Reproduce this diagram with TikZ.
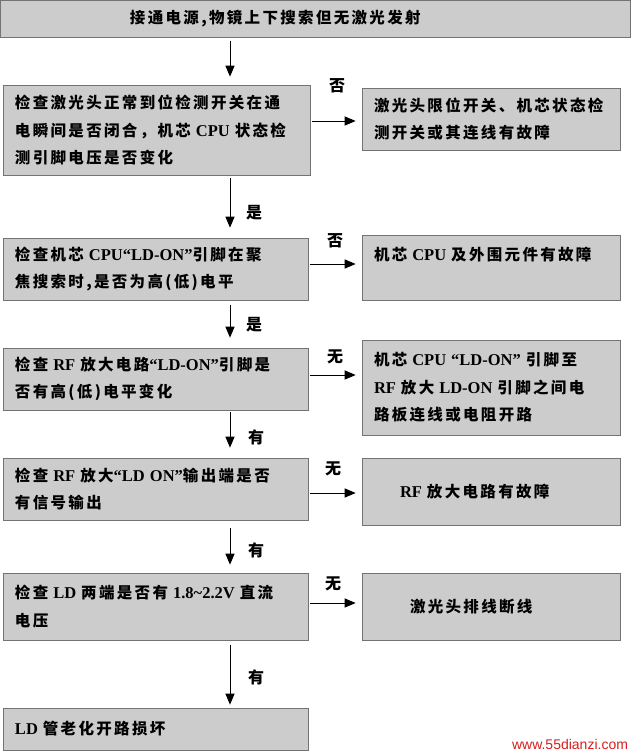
\documentclass[tikz,border=0pt]{standalone}
\usepackage{fontspec}
\newfontfamily\cjk[LetterSpace=15]{Noto Sans CJK SC}
\newfontfamily\latf{Liberation Serif}
\newfontfamily\wm{Liberation Sans}
\usetikzlibrary{arrows.meta}
\definecolor{boxgray}{gray}{0.80}
\definecolor{wmred}{RGB}{215,30,30}
\newcommand{\boxfont}{\cjk\bfseries\fontsize{15.5}{27.5}\selectfont}
\newcommand{\lat}[1]{{\latf\bfseries\fontsize{16.5}{27.5}\selectfont #1}}
\newcommand{\tl}[1]{\mbox{#1}}
\newcommand{\gapsp}{\hspace{5pt}}
\tikzset{
  bx/.style={fill=boxgray, draw=black!55, line width=0.6pt, inner xsep=12pt, inner ysep=4pt, align=left, font=\boxfont},
  arr/.style={-{Triangle[length=11pt,width=9pt]}, line width=1pt},
  lab/.style={font=\cjk\bfseries\fontsize{16}{18}\selectfont, inner sep=0pt}
}
\begin{document}
\begin{tikzpicture}[x=1pt,y=-1pt]
\useasboundingbox (0,0) rectangle (635,756);
\fill[white] (0,0) rectangle (635,756);
% top box
\node[bx, text width=606pt, minimum height=37pt] (top) at (315,18.5) {\hspace*{118pt}\tl{接通电源,物镜上下搜索但无激光发射}};
% left column
\node[bx, text width=283pt, minimum height=90pt] (b2) at (156.5,130) {\tl{检查激光头正常到位检测开关在通}\\\tl{电瞬间是否闭合，机芯\gapsp{}\lat{CPU}\gapsp{}状态检}\\\tl{测引脚电压是否变化}};
\node[bx, text width=281pt, minimum height=62pt] (b3) at (155.5,269) {\tl{检查机芯\gapsp{}\lat{CPU“LD-ON”}引脚在聚}\\\tl{焦搜索时,是否为高(低)电平}};
\node[bx, text width=281pt, minimum height=62pt] (b4) at (155.5,379) {\tl{检查\gapsp{}\lat{RF}\gapsp{}放大电路\lat{“LD-ON”}引脚是}\\\tl{否有高(低)电平变化}};
\node[bx, text width=281pt, minimum height=62pt] (b5) at (155.5,489) {\tl{检查\gapsp{}\lat{RF}\gapsp{}放大\lat{“LD ON”}输出端是否}\\\tl{有信号输出}};
\node[bx, text width=281pt, minimum height=67pt] (b6) at (155.5,606.5) {\tl{检查\gapsp{}\lat{LD}\gapsp{}两端是否有\gapsp{}\lat{1.8\textasciitilde2.2V}\gapsp{}直流}\\\tl{电压}};
\node[bx, text width=281pt, minimum height=42pt] (b7) at (155.5,729) {\tl{\lat{LD}\gapsp{}管老化开路损坏}};
% right column
\node[bx, text width=234pt, minimum height=62pt] (r2) at (491,119) {\tl{激光头限位开关、机芯状态检}\\\tl{测开关或其连线有故障}};
\node[bx, text width=234pt, minimum height=65pt] (r3) at (491,267.5) {\tl{机芯\gapsp{}\lat{CPU}\gapsp{}及外围元件有故障}\\\mbox{}};
\node[bx, text width=234pt, minimum height=95pt] (r4) at (491,387.5) {\tl{机芯\gapsp{}\lat{CPU}\gapsp{}\lat{“LD-ON”}\gapsp{}引脚至}\\\tl{\lat{RF}\gapsp{}放大\gapsp{}\lat{LD-ON}\gapsp{}引脚之间电}\\\tl{路板连线或电阻开路}};
\node[bx, text width=234pt, minimum height=67pt] (r5) at (491,491.5) {\hspace*{26pt}\tl{\lat{RF}\gapsp{}放大电路有故障}};
\node[bx, text width=234pt, minimum height=67pt] (r6) at (491,606.5) {\hspace*{36pt}\tl{激光头排线断线}};
% vertical axis
\coordinate (ax) at (230,0);
\draw[arr, shorten <=4pt, shorten >=8pt] (top.south -| ax) -- (b2.north -| ax);
\draw[arr, shorten <=3pt, shorten >=10pt] (b2.south -| ax) -- (b3.north -| ax);
\draw[arr, shorten <=5pt, shorten >=10pt] (b3.south -| ax) -- (b4.north -| ax);
\draw[arr, shorten <=2pt, shorten >=10pt] (b4.south -| ax) -- (b5.north -| ax);
\draw[arr, shorten <=8pt, shorten >=8pt] (b5.south -| ax) -- (b6.north -| ax);
\draw[arr, shorten <=5pt, shorten >=3pt] (b6.south -| ax) -- (b7.north -| ax);
% horizontal arrows
\coordinate (h2) at (0,121);
\coordinate (h3) at (0,264);
\coordinate (h4) at (0,375);
\coordinate (h5) at (0,493);
\coordinate (h6) at (0,603);
\draw[arr, shorten <=2pt, shorten >=6pt] (b2.east |- h2) -- (r2.west |- h2);
\draw[arr, shorten <=2pt, shorten >=6pt] (b3.east |- h3) -- (r3.west |- h3);
\draw[arr, shorten <=2pt, shorten >=6pt] (b4.east |- h4) -- (r4.west |- h4);
\draw[arr, shorten <=2pt, shorten >=6pt] (b5.east |- h5) -- (r5.west |- h5);
\draw[arr, shorten <=2pt, shorten >=6pt] (b6.east |- h6) -- (r6.west |- h6);
% labels
\node[lab] (l2) at (337,86) {否};
\node[lab] (l3) at (335,241) {否};
\node[lab] (l4) at (335,357) {无};
\node[lab] (l5) at (333,469) {无};
\node[lab] (l6) at (333,584) {无};
\node[lab] (v2) at (254,213) {是};
\node[lab] (v3) at (254,325) {是};
\node[lab] (v4) at (256,437) {有};
\node[lab] (v5) at (256,550) {有};
\node[lab] (v6) at (256,677) {有};
% watermark
\node[font=\wm\fontsize{14}{16}\selectfont, text=wmred, inner sep=0pt] (wm) at (570,744) {www.55dianzi.com};
\end{tikzpicture}
\end{document}
